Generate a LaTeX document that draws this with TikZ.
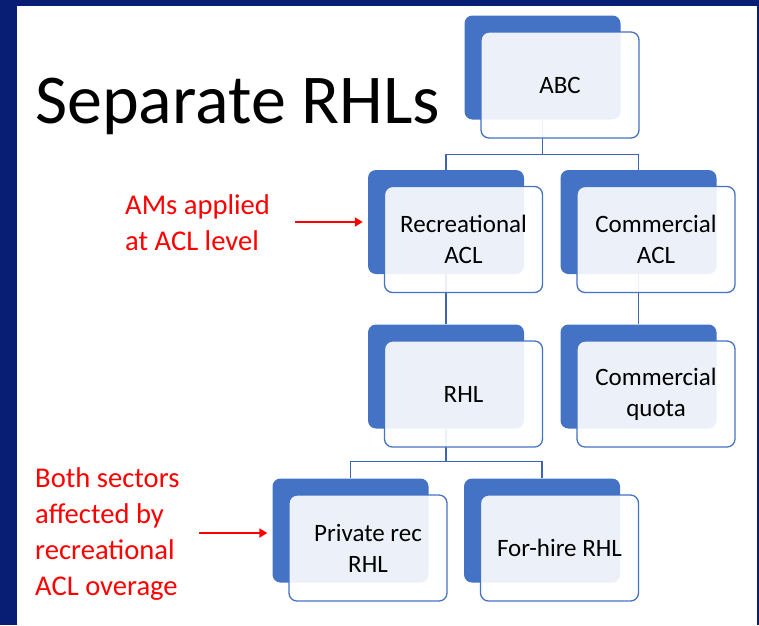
\documentclass[tikz,border=0pt]{standalone}
\usepackage{fontspec}
\setmainfont{Carlito}
\usetikzlibrary{arrows.meta}
\definecolor{slidenavy}{RGB}{8,30,116}
\definecolor{boxblue}{RGB}{68,114,196}
\definecolor{linkblue}{RGB}{63,99,181}
\definecolor{notered}{RGB}{255,0,0}
\begin{document}
\begin{tikzpicture}[x = 1pt, y = -1pt,
        back/.style = {fill = boxblue, rounded corners = 8pt, minimum width = 156pt, minimum height = 104pt, inner sep = 0pt},
        front/.style = {draw = boxblue, line width = 1.3pt, fill = white, fill opacity = 0.9, text opacity = 1, rounded corners = 8pt, minimum width = 158pt, minimum height = 106pt, inner sep = 0pt, align = center, font = \fontsize{25}{31}\selectfont, shift = {(17.5, 17.5)}},
        link/.style = {draw = linkblue, line width = 1.4pt},
        note/.style = {text = notered, align = left, anchor = north west, inner sep = 0pt, font = \fontsize{28.6}{36}\selectfont},
        pointer/.style = {draw = notered, line width = 1.8pt, -{Triangle[length = 8pt, width = 9pt]}, shorten > = 5pt}]
        \useasboundingbox (0, 0) rectangle (759, 625);
        \fill [slidenavy] (0, 0) rectangle (759, 625);
        \fill [white] (17, 6) rectangle (757, 625);
        \node [anchor = base west, inner sep = 0pt, font = \fontsize{70}{82}\selectfont] (title) at (35, 123) {Separate RHLs};
        \node [back] (abc) at (542.5, 67.5) {};
        \node [back] (recacl) at (446, 222) {};
        \node [back] (comacl) at (638.5, 222) {};
        \node [back] (rhl) at (446, 376.5) {};
        \node [back] (comquota) at (638.5, 376.5) {};
        \node [back] (privrhl) at (350.5, 530.5) {};
        \node [back] (forhire) at (542, 530.5) {};
        \draw [link] (abc.south) -- ++(0, 34.5) -| (recacl.north);
        \draw [link] (abc.south) -- ++(0, 34.5) -| (comacl.north);
        \draw [link] (recacl.south) -- (rhl.north);
        \draw [link] (comacl.south) -- (comquota.north);
        \draw [link] (rhl.south) -- ++(0, 33) -| (privrhl.north);
        \draw [link] (rhl.south) -- ++(0, 33) -| (forhire.north);
        \node [front] (abctext) at (abc) {ABC};
        \node [front] (recacltext) at (recacl) {Recreational\\ACL};
        \node [front] (comacltext) at (comacl) {Commercial\\ACL};
        \node [front] (rhltext) at (rhl) {RHL};
        \node [front] (comquotatext) at (comquota) {Commercial\\quota};
        \node [front] (privrhltext) at (privrhl) {Private rec\\RHL};
        \node [front] (forhiretext) at (forhire) {For-hire RHL};
        \node [note] (amsnote) at (125, 194) {AMs applied\\at ACL level};
        \node [note] (bothnote) at (35, 467) {Both sectors\\affected by\\recreational\\ACL overage};
        \coordinate (amsfrom) at (295, 222);
        \coordinate (bothfrom) at (199, 533);
        \draw [pointer] (amsfrom) -- (recacl.west);
        \draw [pointer] (bothfrom) -- (bothfrom -| privrhl.west);
    \end{tikzpicture}
\end{document}
